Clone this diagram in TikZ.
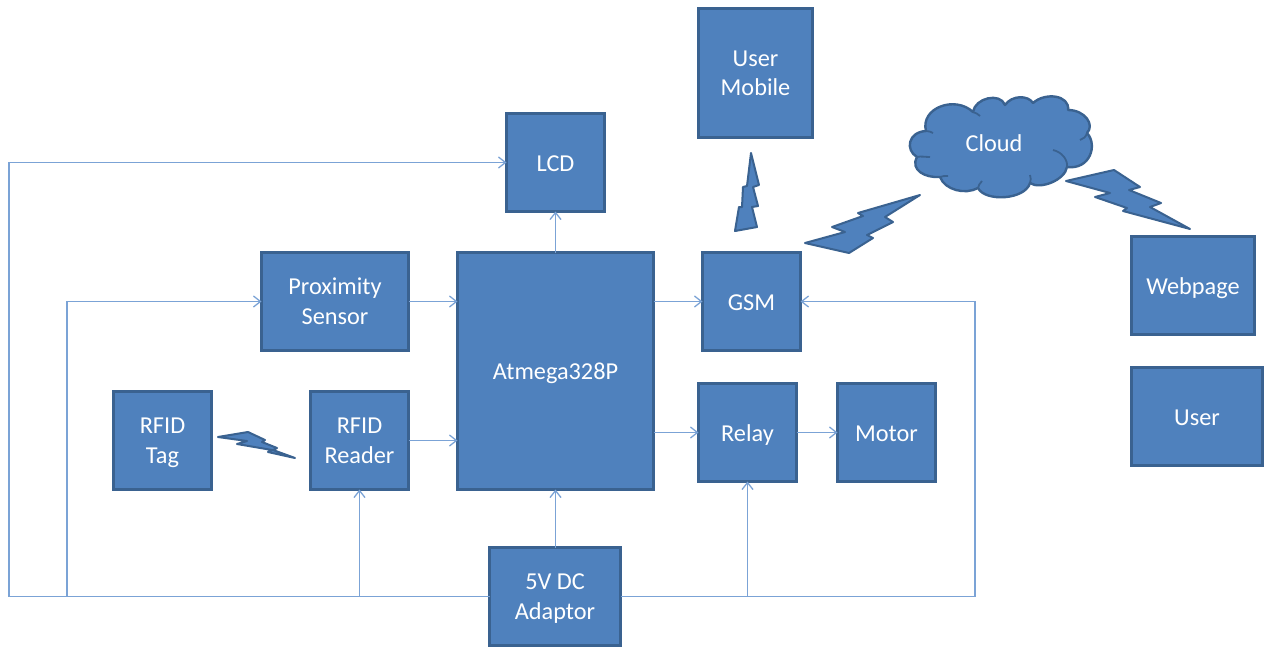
\documentclass[tikz,border=0pt]{standalone}
\usepackage{fontspec}
\setmainfont{Carlito}
\usetikzlibrary{arrows.meta}
\definecolor{boxfill}{HTML}{4F81BD}
\definecolor{boxline}{HTML}{3A6290}
\definecolor{wire}{HTML}{7BA3D6}
\newcommand{\firststrut}{\rule{0pt}{21.5pt}}
\tikzset{
  blockbox/.style={draw=boxline,fill=boxfill,line width=3pt,text=white,align=center,inner sep=0pt,outer sep=0pt,
    font=\fontsize{24.3}{29.5}\selectfont,
    execute at begin node={\rule{0pt}{23pt}},
    execute at end node={\rule[-6pt]{0pt}{0pt}}},
  wireline/.style={draw=wire,line width=1.4pt},
  wirearrow/.style={wireline,-{Straight Barb[length=7pt,width=11pt,line width=1.3pt]}},
  bolt/.style={draw=boxline,fill=boxfill,line width=2pt,line join=round},
  cloudshape/.style={draw=boxline,fill=boxfill,line width=2.4pt,line join=round},
  cloudinner/.style={draw=boxline,line width=1.8pt}
}
\begin{document}
\begin{tikzpicture}[x=1pt,y=-1pt]
\useasboundingbox (0,0) rectangle (1265,646);
\fill[white] (0,0) rectangle (1265,646);
\node[blockbox,minimum width=114pt,minimum height=129pt] (mobile) at (755.5,73) {\firststrut User\\Mobile};
\node[blockbox,minimum width=98pt,minimum height=98pt] (lcd) at (555.5,162.5) {LCD};
\node[blockbox,minimum width=147pt,minimum height=98pt] (prox) at (335,301.5) {\firststrut Proximity\\Sensor};
\node[blockbox,minimum width=196pt,minimum height=237pt] (atm) at (555.5,371) {Atmega328P};
\node[blockbox,minimum width=98pt,minimum height=98pt] (gsm) at (751.5,301.5) {GSM};
\node[blockbox,minimum width=98pt,minimum height=98pt] (relay) at (747.5,432.5) {Relay};
\node[blockbox,minimum width=98pt,minimum height=98pt] (motor) at (886.5,432.5) {Motor};
\node[blockbox,minimum width=98pt,minimum height=98pt] (tag) at (162.5,440.5) {\firststrut RFID\\Tag};
\node[blockbox,minimum width=98pt,minimum height=98pt] (reader) at (359.5,440.5) {\firststrut RFID\\Reader};
\node[blockbox,minimum width=131pt,minimum height=98pt] (dc) at (555,596.5) {\firststrut 5V DC\\Adaptor};
\node[blockbox,minimum width=123pt,minimum height=98pt] (web) at (1193,285.5) {Webpage};
\node[blockbox,minimum width=131pt,minimum height=98pt] (user) at (1197,416.5) {User};
% corner and junction points of the power rail
\coordinate (railL) at (9,596.5);
\coordinate (railM) at (67,596.5);
\coordinate (railR) at (975,596.5);
% power rail
\draw[wirearrow] (dc.west) -- (railL) |- (lcd.west);
\draw[wirearrow] (railM) |- (prox.west);
\draw[wirearrow] (reader.south |- railM) -- (reader.south);
\draw[wirearrow] (dc.east) -- (railR) |- (gsm.east);
\draw[wirearrow] (relay.south |- railR) -- (relay.south);
\draw[wirearrow] (atm.south |- dc.north) -- (atm.south);
\draw[wirearrow] (atm.north) -- (lcd.south);
% signals
\draw[wirearrow] (prox.east) -- (prox.east -| atm.west);
\draw[wirearrow] (reader.east) -- (reader.east -| atm.west);
\draw[wirearrow] (gsm.west -| atm.east) -- (gsm.west);
\draw[wirearrow] (relay.west -| atm.east) -- (relay.west);
\draw[wirearrow] (relay.east) -- (motor.west);
% cloud
\draw[cloudshape] (926,131)
  .. controls (920,108) and (955,95) .. (973,112)
  .. controls (975,98) and (1000,92) .. (1005,105)
  .. controls (1012,95) and (1028,95) .. (1033,103)
  .. controls (1045,92) and (1070,95) .. (1068,110)
  .. controls (1085,110) and (1095,125) .. (1087,133)
  .. controls (1098,145) and (1090,170) .. (1067,167)
  .. controls (1065,180) and (1040,190) .. (1030,183)
  .. controls (1025,200) and (985,202) .. (978,188)
  .. controls (965,195) and (945,190) .. (940,177)
  .. controls (925,178) and (910,170) .. (917,157)
  .. controls (905,150) and (908,132) .. (926,131) -- cycle;
\draw[cloudinner] (1053,150) .. controls (1062,152) and (1068,160) .. (1067,167);
\draw[cloudinner] (1087,133) .. controls (1086,137) and (1083,139) .. (1080,140);
\draw[cloudinner] (1030,183) .. controls (1031,180) and (1031,178) .. (1030,175);
\draw[cloudinner] (973,112) .. controls (976,113) and (978,114) .. (980,116);
\draw[cloudinner] (926,131) .. controls (929,131) and (931,132) .. (933,133);
\draw[cloudinner] (917,157) .. controls (921,156) and (925,157) .. (930,157);
\draw[cloudinner] (940,177) .. controls (942,176) and (945,176) .. (948,176);
\draw[cloudinner] (978,188) .. controls (978,186) and (980,183) .. (982,181);
\node[text=white,inner sep=0pt,font=\fontsize{24.3}{29.5}\selectfont] (cloudlabel) at (994,143.5) {Cloud};
% lightning bolts
\draw[bolt] (920,195) -- (858,213) -- (863,216) -- (832,227) -- (845,232) -- (805,243) -- (849,253) -- (873,238) -- (867,235) -- (893,222) -- (885,217) -- cycle;
\draw[bolt] (751,153) -- (759,185) -- (753,187) -- (758,206) -- (752,207) -- (757,227) -- (735,231) -- (739,207) -- (742,207) -- (743,187) -- (747,186) -- cycle;
\draw[bolt] (1066,181) -- (1114,170) -- (1140,187) -- (1129,190) -- (1161,203) -- (1150,207) -- (1190,229) -- (1123,211) -- (1127,208) -- (1095,197) -- (1110,193) -- cycle;
\draw[bolt] (218,437) -- (248,432) -- (265,440) -- (262,442) -- (277,448) -- (273,450) -- (295,458) -- (268,452) -- (272,450) -- (237,444) -- (247,441) -- cycle;
\end{tikzpicture}
\end{document}
